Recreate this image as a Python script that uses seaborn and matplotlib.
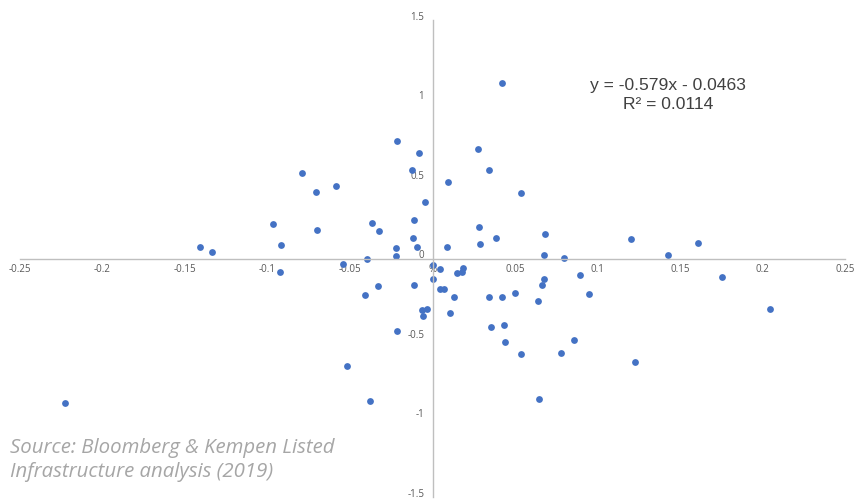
import matplotlib
matplotlib.use("Agg")
import matplotlib.pyplot as plt
import matplotlib.transforms as mtransforms
import seaborn as sns

# valeurs (x = variation, y = rendement)
x_vals = [-0.2227, -0.1407, -0.1338, -0.0968, -0.0920, -0.0924, -0.0789, -0.0706,
          -0.0698, -0.0587, -0.0541, -0.0518, -0.0407, -0.0395, -0.0381, -0.0368,
          -0.0332, -0.0326, -0.0221, -0.0221, -0.0217, -0.0215, -0.0126, -0.0120,
          -0.0112, -0.0112, -0.0092, -0.0084, -0.0064, -0.0058, -0.0044, -0.0035,
          0.0005, 0.0005, 0.0045, 0.0045, 0.0068, 0.0088, 0.0092, 0.0108,
          0.0130, 0.0150, 0.0177, 0.0187, 0.0274, 0.0282, 0.0288, 0.0342,
          0.0342, 0.0356, 0.0385, 0.0419, 0.0419, 0.0433, 0.0439, 0.0502,
          0.0535, 0.0536, 0.0639, 0.0645, 0.0662, 0.0676, 0.0676, 0.0682,
          0.0779, 0.0799, 0.0859, 0.0894, 0.0950, 0.1205, 0.1227, 0.1427,
          0.1611, 0.1756, 0.2045]
y_vals = [-0.906, 0.071, 0.042, 0.216, 0.086, -0.082, 0.535, 0.417,
          0.180, 0.455, -0.036, -0.679, -0.231, -0.006, -0.897, 0.224,
          -0.174, 0.174, 0.065, 0.015, 0.736, -0.457, 0.555, 0.130,
          0.245, -0.166, 0.071, 0.665, -0.327, -0.363, 0.354, -0.319,
          -0.044, -0.132, -0.065, -0.190, -0.190, 0.071, 0.484, -0.340,
          -0.245, -0.094, -0.084, -0.058, 0.686, 0.195, 0.092, 0.555,
          -0.239, -0.428, 0.130, 1.105, -0.239, -0.419, -0.528, -0.216,
          -0.602, 0.411, -0.268, -0.882, -0.166, 0.021, -0.130, 0.151,
          -0.593, 0.006, -0.514, -0.101, -0.224, 0.121, -0.652, 0.021,
          0.099, -0.118, -0.319]

x_ticks = [-0.25, -0.2, -0.15, -0.1, -0.05, 0, 0.05, 0.1, 0.15, 0.2, 0.25]
x_labels = ["-0.25", "-0.2", "-0.15", "-0.1", "-0.05", "%", "0.05", "0.1", "0.15", "0.2", "0.25"]
y_ticks = [-1.5, -1, -0.5, 0, 0.5, 1, 1.5]
y_labels = ["-1.5", "-1", "-0.5", "0", "0.5", "1", "1.5"]

sns.set_style("white")
plt.rcParams["font.family"] = ["Open Sans", "DejaVu Sans"]

fig = plt.figure(figsize=(8.63, 5.01), dpi=100)
ax = fig.add_axes([20 / 863, 1 - 497 / 501, 825 / 863, 477 / 501])

sns.scatterplot(x=x_vals, y=y_vals, ax=ax, color="#4472C4", s=24, linewidth=0, clip_on=False)

ax.set_xlim(-0.25, 0.25)
ax.set_ylim(-1.5, 1.5)

# axes qui se croisent à l'origine
for side in ["top", "right"]:
    ax.spines[side].set_visible(False)
ax.spines["left"].set_position(("data", 0))
ax.spines["bottom"].set_position(("data", 0))
for side in ["left", "bottom"]:
    ax.spines[side].set_color("#bfbfbf")
    ax.spines[side].set_linewidth(1)

ax.set_xticks(x_ticks)
ax.set_xticklabels(x_labels)
ax.set_yticks(y_ticks)
ax.set_yticklabels(y_labels)
ax.tick_params(axis="both", length=0, labelsize=7, labelcolor="#595959")
ax.tick_params(axis="x", pad=4)
ax.tick_params(axis="y", pad=6)

# étiquettes y un peu remontées, comme dans Excel
shift = mtransforms.ScaledTranslation(0, 3 / 72, fig.dpi_scale_trans)
for lab in ax.get_yticklabels():
    lab.set_transform(lab.get_transform() + shift)

ax.text(0.1427, 1.088, "y = -0.579x - 0.0463", ha="center", va="center",
        fontsize=12.6, color="#404040", family=["Liberation Sans"])
ax.text(0.1427, 0.969, "R² = 0.0114", ha="center", va="center",
        fontsize=12.6, color="#404040", family=["Liberation Sans"])

fig.text(10 / 863, 1 - 453 / 501, "Source: Bloomberg & Kempen Listed", ha="left", va="baseline",
         fontsize=14.7, color="#a6a6a6", style="italic")
fig.text(10 / 863, 1 - 477 / 501, "Infrastructure analysis (2019)", ha="left", va="baseline",
         fontsize=14.7, color="#a6a6a6", style="italic")

plt.savefig("out.png", dpi=100)
